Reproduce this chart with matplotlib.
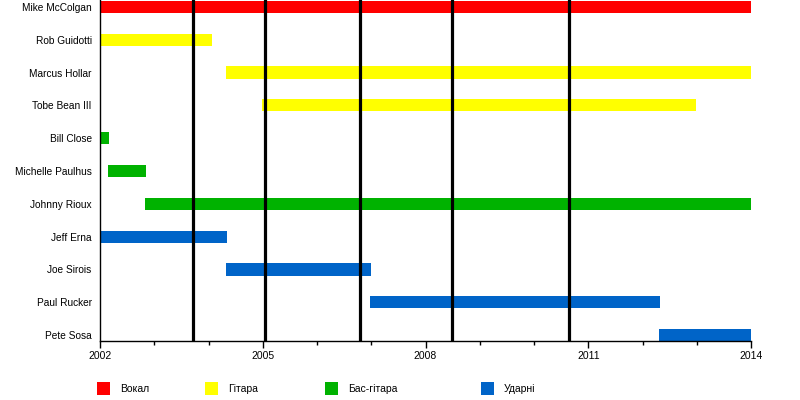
import matplotlib
matplotlib.use("Agg")
import matplotlib.pyplot as plt
from matplotlib.patches import Rectangle

members = ["Mike McColgan", "Rob Guidotti", "Marcus Hollar", "Tobe Bean III",
           "Bill Close", "Michelle Paulhus", "Johnny Rioux", "Jeff Erna",
           "Joe Sirois", "Paul Rucker", "Pete Sosa"]
starts = [2002.0, 2002.0, 2004.32, 2004.99, 2002.0, 2002.15, 2002.83,
          2002.0, 2004.32, 2006.98, 2012.3]
ends = [2014.0, 2004.06, 2014.0, 2012.99, 2002.17, 2002.85, 2014.0,
        2004.34, 2007.0, 2012.32, 2014.0]
roles = ["Вокал", "Гітара", "Гітара", "Гітара", "Бас-гітара", "Бас-гітара",
         "Бас-гітара", "Ударні", "Ударні", "Ударні", "Ударні"]
role_names = ["Вокал", "Гітара", "Бас-гітара", "Ударні"]
role_colors = ["#ff0000", "#ffff00", "#00b200", "#0064c8"]
albums = [2003.71, 2005.04, 2006.79, 2008.49, 2010.65]
major_ticks = [2002, 2005, 2008, 2011, 2014]

plt.rcParams['font.family'] = ['Liberation Sans', 'DejaVu Sans']

fig = plt.figure(figsize=(8, 4), dpi=100)
ax = fig.add_axes([0.125, 0.1475, 0.81375, 0.8525])

cmap = dict(zip(role_names, role_colors))
for i, (s, e, r) in enumerate(zip(starts, ends, roles)):
    ax.barh(i, e - s, left=s, height=0.37, color=cmap[r], edgecolor='none', zorder=2)

for a in albums:
    ax.axvline(a, color='black', lw=2.3, zorder=3)

ax.set_xlim(2002, 2014)
ax.set_ylim(10.18, -0.21)
ax.set_yticks(range(len(members)))
ax.set_yticklabels(members, fontsize=7.3)
ax.tick_params(axis='y', length=0, pad=6)
ax.set_xticks(major_ticks)
ax.set_xticklabels([str(t) for t in major_ticks], fontsize=7.5)
ax.set_xticks(range(2002, 2015), minor=True)
ax.tick_params(axis='x', which='major', length=5, width=1, direction='out', pad=2)
ax.tick_params(axis='x', which='minor', length=3, width=1, direction='out')
for sp in ['top', 'right']:
    ax.spines[sp].set_visible(False)
for sp in ['left', 'bottom']:
    ax.spines[sp].set_linewidth(1)

# legend
sq_x = [97, 205, 325, 481]
for x, name, col in zip(sq_x, role_names, role_colors):
    fig.patches.append(Rectangle((x / 800, 1 - 395 / 400), 13 / 800, 13 / 400,
                                 transform=fig.transFigure, facecolor=col,
                                 edgecolor='none'))
    fig.text((x + 23) / 800, 1 - 389 / 400, name, fontsize=7.5, va='center', ha='left')

fig.savefig("out.png", dpi=100)
